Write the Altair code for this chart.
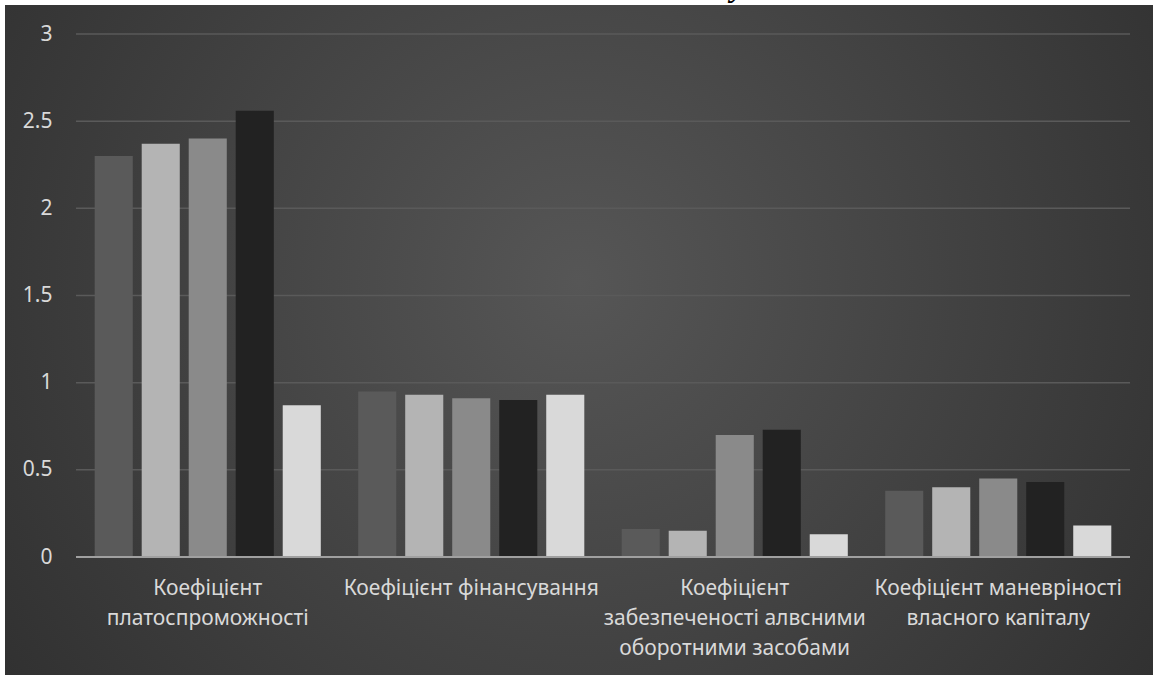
import altair as alt
import pandas as pd

categories = [
    "Коефіцієнт\nплатоспроможності",
    "Коефіцієнт фінансування",
    "Коефіцієнт\nзабезпеченості алвсними\nоборотними засобами",
    "Коефіцієнт маневріності\nвласного капіталу",
]
series = ["Ряд 1", "Ряд 2", "Ряд 3", "Ряд 4", "Ряд 5"]
values = {
    "Ряд 1": [2.30, 0.95, 0.16, 0.38],
    "Ряд 2": [2.37, 0.93, 0.15, 0.40],
    "Ряд 3": [2.40, 0.91, 0.70, 0.45],
    "Ряд 4": [2.56, 0.90, 0.73, 0.43],
    "Ряд 5": [0.87, 0.93, 0.13, 0.18],
}
colors = ["#5a5a5a", "#b4b4b4", "#8a8a8a", "#222222", "#d9d9d9"]
grid_values = [0.5, 1, 1.5, 2, 2.5, 3]

rows = []
for s in series:
    for c, v in zip(categories, values[s]):
        rows.append({"cat": c, "series": s, "value": v})
df = pd.DataFrame(rows)

W, H = 1054, 523
PL, PT, PR, PB = 76, 34, 23, 118
FONT = "Noto Sans"
TXT = "#d9d9d9"

one = alt.Chart(pd.DataFrame({"a": [0]}))

title_peek = one.mark_text(
    text="у", font="Liberation Serif", fontSize=32, fontWeight="bold",
    fontStyle="italic", color="#000000", baseline="alphabetic", align="center"
).encode(x=alt.value(662), y=alt.value(-38))

bg = one.mark_rect(
    color={
        "gradient": "radial",
        "x1": 0.5, "y1": 0.45, "r1": 0,
        "x2": 0.5, "y2": 0.45, "r2": 0.72,
        "stops": [
            {"offset": 0, "color": "#565656"},
            {"offset": 1, "color": "#2a2a2a"},
        ],
    }
).encode(
    x=alt.value(5 - PL), x2=alt.value(1153 - PL),
    y=alt.value(5 - PT), y2=alt.value(675 - PT),
)

grid = alt.Chart(pd.DataFrame({"g": grid_values})).mark_rule(
    color="#5a5a5a", strokeWidth=1.5
).encode(y=alt.Y("g:Q", scale=alt.Scale(domain=[0, 3])))

xscale = alt.Scale(domain=categories, paddingInner=0.108, paddingOuter=0.054)

bars = alt.Chart(df).mark_bar(stroke=None).encode(
    x=alt.X(
        "cat:N", scale=xscale, sort=categories, title=None,
        axis=alt.Axis(
            labelAngle=0, domain=False, ticks=False, labelPadding=20,
            labelExpr="split(datum.label, '\\n')", labelLineHeight=30,
            labelFont=FONT, labelFontSize=21, labelColor=TXT, zindex=1,
            labelLimit=400,
        ),
    ),
    xOffset=alt.XOffset(
        "series:N", sort=series,
        scale=alt.Scale(domain=series, paddingInner=0.19, paddingOuter=0.095),
    ),
    y=alt.Y(
        "value:Q", scale=alt.Scale(domain=[0, 3]), title=None,
        axis=alt.Axis(
            values=[0, 0.5, 1, 1.5, 2, 2.5, 3], format="~g", grid=False,
            domain=False, ticks=False, labelPadding=24, labelFont=FONT,
            labelFontSize=21, labelColor=TXT, zindex=1,
        ),
    ),
    color=alt.Color("series:N", scale=alt.Scale(domain=series, range=colors), legend=None),
)

base = alt.Chart(pd.DataFrame({"g": [0]})).mark_rule(
    color="#a0a0a0", strokeWidth=2
).encode(y=alt.Y("g:Q", scale=alt.Scale(domain=[0, 3])))

chart = alt.layer(title_peek, bg, grid, bars, base).properties(
    width=W, height=H,
    autosize=alt.AutoSizeParams(type="none"),
    padding={"left": PL, "top": PT, "right": PR, "bottom": PB},
    background="#ffffff",
).configure_view(stroke=None)

chart.save("out.html", embed_options={"renderer": "svg", "actions": False})
